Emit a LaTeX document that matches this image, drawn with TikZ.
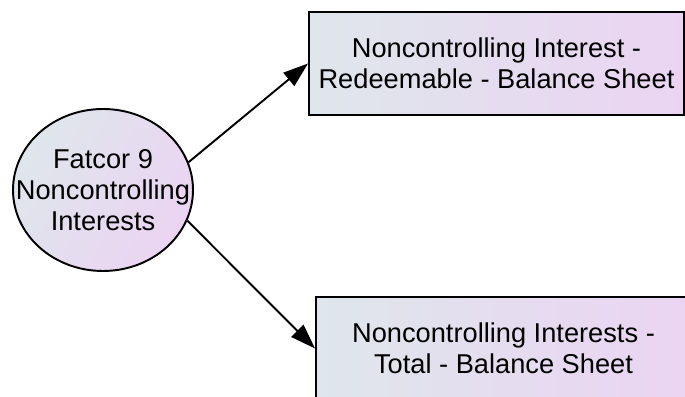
\documentclass[tikz,border=0pt]{standalone}
\usepackage{fontspec}
\setmainfont{Liberation Sans}
\usepackage{xcolor}
\usetikzlibrary{shapes.geometric,positioning,arrows.meta}
\definecolor{shadeleft}{HTML}{DFE6EC}
\definecolor{shaderight}{HTML}{EBD4F2}

\begin{document}
\begin{tikzpicture}[
    factor/.style={ellipse, draw, line width=1.1pt, minimum width=3.6cm, minimum height=3.24cm,
      inner xsep=-0.5cm, inner ysep=0pt, align=center, font=\fontsize{15.5}{17.6}\selectfont,
      shading=axis, left color=shadeleft, right color=shaderight, shading angle=60},
    measure/.style={rectangle, draw, line width=1.1pt, minimum width=7.5cm, minimum height=2.06cm,
      align=center, font=\fontsize{15.5}{17.6}\selectfont,
      left color=shadeleft, right color=shaderight},
    link/.style={line width=1.1pt, -{Triangle[length=0.5cm, width=0.34cm]}}
  ]
  \useasboundingbox (0,0) rectangle (13.7,7.94);

  % Factor
  \node[factor] (fac) at (2.06,4.14) {Fatcor 9\\Noncontrolling\\Interests};

  % Measures
  \node[measure] (redeem) at (9.93,6.67) {Noncontrolling Interest -\\Redeemable - Balance Sheet};
  \node[measure] (total) at (10.07,0.97) {Noncontrolling Interests -\\Total - Balance Sheet};

  % Loadings
  \draw[link] (fac.18) -- (redeem.west);
  \draw[link] (fac.-20) -- (total.west);
\end{tikzpicture}
\end{document}
